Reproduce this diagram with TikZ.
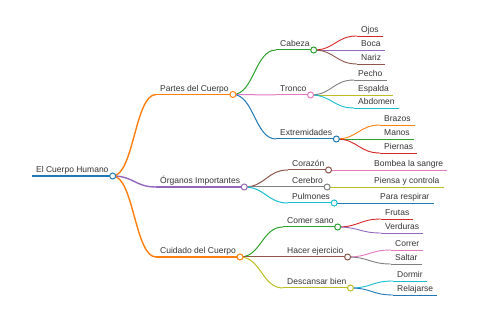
\documentclass[tikz,border=0pt]{standalone}
\usepackage{fontspec}
\setmainfont{Liberation Sans}
\usepackage{tikz}
\usetikzlibrary{positioning}
\usepackage{xcolor}
\definecolor{cBlue}{HTML}{1F77B4}
\definecolor{cOrange}{HTML}{FF7F0E}
\definecolor{cGreen}{HTML}{2CA02C}
\definecolor{cRed}{HTML}{D62728}
\definecolor{cPurple}{HTML}{9467BD}
\definecolor{cBrown}{HTML}{8C564B}
\definecolor{cPink}{HTML}{E377C2}
\definecolor{cGray}{HTML}{7F7F7F}
\definecolor{cOlive}{HTML}{BCBD22}
\definecolor{cCyan}{HTML}{17BECF}
\tikzset{
  topic/.style 2 args={font=\fontsize{8.5}{10}\selectfont,text=black!80,
                       inner xsep=4pt,inner ysep=3pt,text depth=0pt,anchor=south west,
                       append after command={(\tikzlastnode.south west)
                         edge[draw=#1,line width=#2] (\tikzlastnode.south east)}},
  rootnode/.style={topic={#1}{2pt}},
  mainnode/.style={topic={#1}{1.4pt}},
  subnode/.style={topic={#1}{1pt}},
  leafnode/.style={topic={#1}{0.9pt}},
  link/.style 2 args={draw=#1,line width=#2,
                      to path={.. controls +(21,0) and +(-21,0) .. (\tikztotarget)}},
  dot/.style={circle,draw=#1,fill=white,line width=1pt,minimum size=6pt,inner sep=0pt}
}
\begin{document}
\begin{tikzpicture}[x=1pt,y=-1pt]
  \useasboundingbox (0,0) rectangle (480,320);
  % root and main branches
  \node[rootnode=cBlue] (body) at (32,176) {El Cuerpo Humano};
  \node[mainnode=cOrange] (parts) at (156,94.5) {Partes del Cuerpo};
  \node[mainnode=cPurple] (organs) at (156,187) {Órganos Importantes};
  \node[mainnode=cOrange] (care) at (156,257) {Cuidado del Cuerpo};

  % second level
  \node[subnode=cGreen] (head) at (276,50) {Cabeza};
  \node[subnode=cPink] (trunk) at (276,95) {Tronco};
  \node[subnode=cBlue] (limbs) at (276,139) {Extremidades};
  \node[subnode=cBrown] (heart) at (288,170) {Corazón};
  \node[subnode=cGray] (brain) at (288,187) {Cerebro};
  \node[subnode=cCyan] (lungs) at (288,203) {Pulmones};
  \node[subnode=cGreen] (eat) at (283,227) {Comer sano};
  \node[subnode=cBrown] (sport) at (283,257) {Hacer ejercicio};
  \node[subnode=cOlive] (rest) at (283,288) {Descansar bien};

  % leaves
  \node[leafnode=cRed] (eyes) at (357,36) {Ojos};
  \node[leafnode=cPurple] (mouth) at (357,50) {Boca};
  \node[leafnode=cBrown] (nose) at (357,64) {Nariz};
  \node[leafnode=cGray] (chest) at (354,80) {Pecho};
  \node[leafnode=cOlive] (back) at (354,95) {Espalda};
  \node[leafnode=cCyan] (belly) at (354,108) {Abdomen};
  \node[leafnode=cOrange] (arms) at (380,125) {Brazos};
  \node[leafnode=cGreen] (hands) at (380,139) {Manos};
  \node[leafnode=cRed] (legs) at (380,153) {Piernas};
  \node[leafnode=cPink] (pump) at (370,170) {Bombea la sangre};
  \node[leafnode=cOlive] (think) at (370,187) {Piensa y controla};
  \node[leafnode=cBlue] (breathe) at (376,203) {Para respirar};
  \node[leafnode=cRed] (fruit) at (381,219) {Frutas};
  \node[leafnode=cPurple] (veg) at (381,233) {Verduras};
  \node[leafnode=cPink] (run) at (391,250) {Correr};
  \node[leafnode=cGray] (jump) at (391,264) {Saltar};
  \node[leafnode=cCyan] (sleep) at (393,281) {Dormir};
  \node[leafnode=cBlue] (relax) at (393,295) {Relajarse};

  % links
  \path (body.south east) edge[link={cOrange}{1.4pt}] (parts.south west)
                          edge[link={cPurple}{1.4pt}] (organs.south west)
                          edge[link={cOrange}{1.4pt}] (care.south west);
  \path (parts.south east) edge[link={cGreen}{1pt}] (head.south west)
                           edge[link={cPink}{1pt}] (trunk.south west)
                           edge[link={cBlue}{1pt}] (limbs.south west);
  \path (organs.south east) edge[link={cBrown}{1pt}] (heart.south west)
                            edge[link={cGray}{1pt}] (brain.south west)
                            edge[link={cCyan}{1pt}] (lungs.south west);
  \path (care.south east) edge[link={cGreen}{1pt}] (eat.south west)
                          edge[link={cBrown}{1pt}] (sport.south west)
                          edge[link={cOlive}{1pt}] (rest.south west);
  \path (head.south east) edge[link={cRed}{0.9pt}] (eyes.south west)
                          edge[link={cPurple}{0.9pt}] (mouth.south west)
                          edge[link={cBrown}{0.9pt}] (nose.south west);
  \path (trunk.south east) edge[link={cGray}{0.9pt}] (chest.south west)
                           edge[link={cOlive}{0.9pt}] (back.south west)
                           edge[link={cCyan}{0.9pt}] (belly.south west);
  \path (limbs.south east) edge[link={cOrange}{0.9pt}] (arms.south west)
                           edge[link={cGreen}{0.9pt}] (hands.south west)
                           edge[link={cRed}{0.9pt}] (legs.south west);
  \path (heart.south east) edge[link={cPink}{0.9pt}] (pump.south west);
  \path (brain.south east) edge[link={cOlive}{0.9pt}] (think.south west);
  \path (lungs.south east) edge[link={cBlue}{0.9pt}] (breathe.south west);
  \path (eat.south east) edge[link={cRed}{0.9pt}] (fruit.south west)
                         edge[link={cPurple}{0.9pt}] (veg.south west);
  \path (sport.south east) edge[link={cPink}{0.9pt}] (run.south west)
                           edge[link={cGray}{0.9pt}] (jump.south west);
  \path (rest.south east) edge[link={cCyan}{0.9pt}] (sleep.south west)
                          edge[link={cBlue}{0.9pt}] (relax.south west);

  % knots on top
  \node[dot=cBlue] (body-o) at (body.south east) {};
  \node[dot=cOrange] (parts-o) at (parts.south east) {};
  \node[dot=cPurple] (organs-o) at (organs.south east) {};
  \node[dot=cOrange] (care-o) at (care.south east) {};
  \node[dot=cGreen] (head-o) at (head.south east) {};
  \node[dot=cPink] (trunk-o) at (trunk.south east) {};
  \node[dot=cBlue] (limbs-o) at (limbs.south east) {};
  \node[dot=cBrown] (heart-o) at (heart.south east) {};
  \node[dot=cGray] (brain-o) at (brain.south east) {};
  \node[dot=cCyan] (lungs-o) at (lungs.south east) {};
  \node[dot=cGreen] (eat-o) at (eat.south east) {};
  \node[dot=cBrown] (sport-o) at (sport.south east) {};
  \node[dot=cOlive] (rest-o) at (rest.south east) {};
\end{tikzpicture}
\end{document}
